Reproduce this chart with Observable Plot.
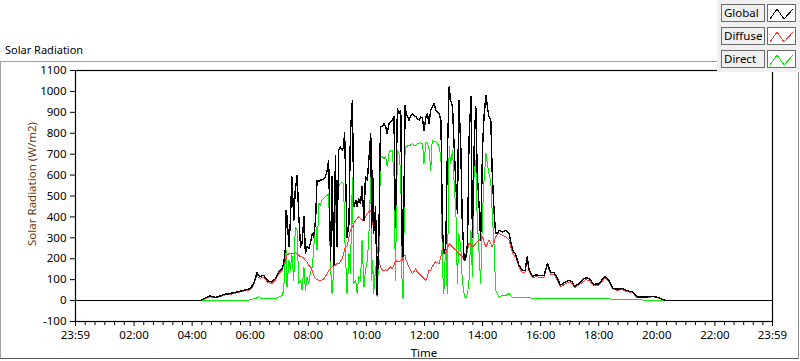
<!DOCTYPE html>
<html><head><meta charset="utf-8">
<script src="https://cdn.jsdelivr.net/npm/d3@7"></script>
<script src="https://cdn.jsdelivr.net/npm/@observablehq/plot@0.6"></script>
<style>
html,body{margin:0;padding:0;background:#fff;}
#wrap{position:relative;width:800px;height:361px;overflow:hidden;font-family:"Noto Sans",sans-serif;color:#000;}
#chart{position:absolute;left:0;top:0;}
#panel{position:absolute;left:0;top:61px;width:797px;height:296px;border:1px solid #a0a0a0;border-right-color:#8a8a8a;border-bottom-color:#555;pointer-events:none;}
#title{position:absolute;left:5px;top:42px;font-size:11px;white-space:nowrap;}
#ytitle{position:absolute;left:31px;top:184px;font-size:11.5px;white-space:nowrap;color:#6e3a12;transform:translate(-50%,-50%) rotate(-90deg);}
#xtitle{position:absolute;left:424px;top:345px;font-size:11.5px;transform:translateX(-50%);white-space:nowrap;}
#legend{position:absolute;left:717px;top:0;width:83px;height:72px;background:#f0f0f0;}
.lab{position:absolute;left:4px;width:40px;height:16px;border:1px solid #6a6a6a;background:#f0f0f0;font-size:11.5px;line-height:16px;padding-left:2px;box-sizing:content-box;}
.sw{position:absolute;left:50px;width:27px;height:16px;border:1px solid #6a6a6a;background:#fff;}
</style></head><body>
<div id="wrap">
  <div id="chart"></div>
  <div id="panel"></div>
  <div id="title">Solar Radiation</div>
  <div id="ytitle">Solar Radiation (W/m2)</div>
  <div id="xtitle">Time</div>
  <div id="legend"></div>
</div>
<script>
// ---- data ----
const times = ["00:00","04:17","04:27","04:37","04:48","04:58","05:05","05:15","05:26","05:36","05:46","05:53","06:00","06:07","06:11","06:14","06:17","06:21","06:28","06:36","06:45","06:52","06:59","07:06","07:09","07:13","07:14","07:16","07:20","07:23","07:26","07:30","07:33","07:37","07:40","07:44","07:47","07:51","07:54","07:57","08:01","08:04","08:08","08:11","08:15","08:18","08:22","08:25","08:28","08:32","08:35","08:39","08:42","08:46","08:49","08:53","08:56","08:59","09:03","09:06","09:10","09:13","09:15","09:20","09:24","09:27","09:31","09:34","09:38","09:41","09:44","09:48","09:51","09:55","09:58","10:02","10:05","10:09","10:11","10:13","10:15","10:19","10:22","10:26","10:29","10:33","10:36","10:40","10:43","10:47","10:50","10:53","10:57","11:00","11:04","11:07","11:11","11:14","11:16","11:20","11:22","11:28","11:31","11:35","11:38","11:42","11:45","11:49","11:52","11:56","11:59","12:03","12:06","12:09","12:13","12:16","12:20","12:23","12:27","12:30","12:34","12:37","12:40","12:44","12:47","12:51","12:54","12:58","13:01","13:05","13:08","13:11","13:15","13:18","13:22","13:25","13:29","13:32","13:36","13:39","13:43","13:46","13:49","13:53","13:56","14:00","14:03","14:07","14:10","14:13","14:17","14:20","14:24","14:27","14:31","14:34","14:41","14:48","14:55","15:02","15:09","15:15","15:22","15:28","15:32","15:36","15:43","15:50","15:57","16:07","16:14","16:21","16:28","16:34","16:41","16:48","16:59","17:05","17:10","17:19","17:33","17:40","17:50","18:00","18:13","18:21","18:30","18:39","18:49","18:56","19:10","19:20","19:37","19:51","20:00","20:12","20:19","23:59"];
const globalW = [0,0,12,22,15,22,30,32,38,43,49,52,57,81,110,132,120,116,121,94,89,105,137,153,177,257,432,400,257,384,591,384,528,599,416,257,273,400,225,257,249,273,320,304,384,576,568,576,576,584,591,623,671,193,591,170,695,257,719,735,719,735,802,304,368,799,958,448,480,448,488,464,544,384,591,576,671,799,352,623,320,448,30,336,831,831,847,831,799,847,855,863,879,352,918,894,910,257,210,934,894,863,879,894,886,879,871,863,879,871,815,879,894,847,910,926,942,910,902,894,863,352,225,257,671,1022,958,926,751,544,416,958,735,384,193,200,273,767,974,304,767,926,607,448,288,735,879,982,926,879,863,607,416,320,324,336,328,336,320,241,217,169,145,145,209,150,116,124,120,120,177,133,133,110,73,84,97,90,68,82,110,105,78,80,116,97,57,55,57,49,41,17,17,20,17,6,0,0];
const diffuseW = [null,0,9,18,13,19,26,28,34,39,45,48,52,72,100,120,110,107,112,86,82,97,129,145,170,193,197,217,225,225,225,225,228,225,217,209,209,201,193,185,169,161,145,121,105,100,97,97,97,105,113,129,145,153,161,164,169,177,177,185,201,225,249,260,304,336,352,368,384,392,400,392,384,392,400,416,424,432,400,368,352,336,256,193,161,145,145,147,145,153,161,153,169,193,185,185,193,193,209,217,193,161,145,129,137,153,137,129,121,113,105,97,113,145,145,161,177,185,180,177,209,256,241,225,249,273,265,256,249,241,233,225,217,209,201,193,241,273,265,256,265,273,280,288,296,304,280,256,272,288,272,256,280,304,317,320,312,304,288,225,205,160,135,137,195,140,108,115,112,112,168,125,125,100,65,76,89,82,62,74,101,95,70,72,108,90,52,50,52,44,37,13,14,18,15,5,0,null];
const directW = [null,0,0,0,0,0,0,0,0,0,0,0,4,8,10,14,18,12,10,9,8,9,17,25,49,225,240,65,193,145,225,97,352,336,81,97,49,161,49,113,81,129,161,240,400,240,464,456,480,488,496,504,512,161,33,161,456,528,544,560,567,560,320,33,225,129,591,81,97,33,113,97,288,65,145,193,304,591,97,193,33,161,17,225,687,687,679,687,639,711,716,719,607,97,719,711,607,17,10,735,735,743,743,751,743,743,751,751,754,751,655,759,751,735,623,767,759,759,751,735,687,161,33,288,33,735,655,719,575,416,81,320,256,97,33,9,33,97,336,113,687,655,384,225,81,416,575,703,655,607,575,416,256,49,33,17,25,25,33,15,15,15,14,14,14,13,12,12,11,11,10,9,9,8,8,8,8,8,8,8,8,8,8,8,10,8,5,5,5,5,5,4,2,2,2,1,0,null];
const seriesNames = ["Global","Diffuse","Direct"];
const seriesColors = ["#000000","#ff3a3a","#00ee00"];
const xTickLabels = ["23:59","02:00","04:00","06:00","08:00","10:00","12:00","14:00","16:00","18:00","20:00","22:00","23:59"];
const yTicks = [-100,0,100,200,300,400,500,600,700,800,900,1000,1100];

// ---- build ----
const toMin = s => { const [h, m] = s.split(":").map(Number); return h * 60 + m; };
const rows = times.map((t, i) => ({t: toMin(t), g: globalW[i], d: diffuseW[i], b: directW[i]}));
const xTickPos = xTickLabels.map((s, i) => i === 0 ? toMin(s) - 1440 : toMin(s));
const labelAt = new Map(xTickPos.map((p, i) => [p, xTickLabels[i]]));
const minor = [];
for (let i = 0; i < xTickPos.length - 1; i++) {
  for (let k = 1; k < 6; k++) minor.push(xTickPos[i] + (xTickPos[i + 1] - xTickPos[i]) * k / 6);
}

const chart = Plot.plot({
  width: 800, height: 361,
  marginLeft: 75, marginRight: 28, marginTop: 70, marginBottom: 40,
  style: {background: "transparent", fontFamily: "Noto Sans", fontSize: "11px", color: "#000", overflow: "visible"},
  x: {type: "linear", domain: [xTickPos[0], xTickPos[xTickPos.length - 1]]},
  y: {domain: [yTicks[0], yTicks[yTicks.length - 1]]},
  marks: [
    Plot.line(rows, {x: "t", y: "b", stroke: seriesColors[2], strokeWidth: 1, shapeRendering: "crispEdges"}),
    Plot.line(rows, {x: "t", y: "d", stroke: seriesColors[1], strokeWidth: 1, shapeRendering: "crispEdges"}),
    Plot.line(rows, {x: "t", y: "g", stroke: seriesColors[0], strokeWidth: 1.4, shapeRendering: "crispEdges"}),
    Plot.frame({stroke: "#000", strokeWidth: 1.2}),
    Plot.axisY(yTicks, {tickSize: 5, tickPadding: 4, fontSize: 11.5, label: null, stroke: "#000", tickFormat: d => String(d)}),
    Plot.axisX(minor, {tickSize: 4, tickFormat: () => "", label: null}),
    Plot.axisX(xTickPos, {tickSize: 5, tickPadding: 4, fontSize: 11.5, tickFormat: d => labelAt.get(d), label: null})
  ]
});
document.getElementById("chart").appendChild(chart);

// legend
const leg = document.getElementById("legend");
seriesNames.forEach((name, i) => {
  const top = 4 + i * 23;
  const lab = document.createElement("div");
  lab.className = "lab"; lab.style.top = top + "px"; lab.textContent = name;
  leg.appendChild(lab);
  const sw = document.createElement("div");
  sw.className = "sw"; sw.style.top = top + "px";
  sw.innerHTML = `<svg width="27" height="16"><polyline points="2,13 9,3 16,13 25,3" fill="none" stroke="${seriesColors[i]}" stroke-width="1" shape-rendering="crispEdges"/></svg>`;
  leg.appendChild(sw);
});
</script>
</body></html>
